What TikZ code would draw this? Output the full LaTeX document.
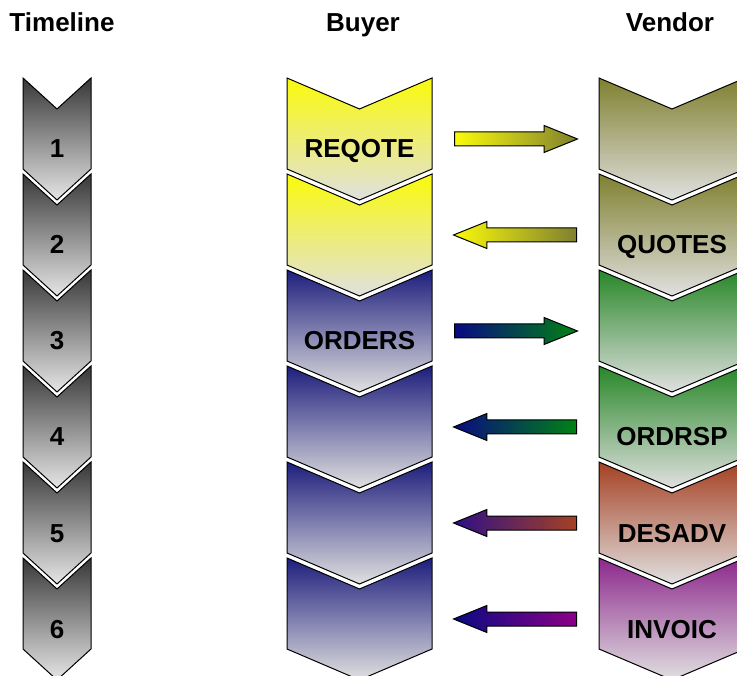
\documentclass[tikz,border=0pt]{standalone}
\usepackage{fontspec}
\setmainfont{Liberation Sans}
\usetikzlibrary{shapes.arrows}
\definecolor{yellowbox}{RGB}{250,250,10}
\definecolor{olivebox}{RGB}{128,128,48}
\definecolor{navybox}{RGB}{30,30,125}
\definecolor{greenbox}{RGB}{40,135,40}
\definecolor{brownbox}{RGB}{165,65,35}
\definecolor{purplebox}{RGB}{140,40,140}
\definecolor{navyarrow}{RGB}{10,10,130}
\definecolor{violetarrow}{RGB}{45,15,135}
\definecolor{greenarrow}{RGB}{0,130,20}
\definecolor{magentaarrow}{RGB}{140,0,135}
\colorlet{fadegray}{black!12}
\begin{document}
\begin{tikzpicture}[x=1pt,y=-1pt,
  chev/.style={draw=black,line width=1pt},
  main node/.style={font=\fontsize{26}{30}\selectfont\bfseries,anchor=base,inner sep=0pt},
  msg/.style={single arrow,draw=black,line width=1pt,minimum height=123pt,minimum width=26pt,
    single arrow head extend=6.5pt,single arrow tip angle=44,inner sep=0pt,inner ysep=6.5pt,anchor=tail}]
  \clip (0,0) rectangle (737,676);
  % column headers
  \node[main node] (timeline) at (62,32) {Timeline};
  \node[main node] (buyer)    at (363,32) {Buyer};
  \node[main node] (vendor)   at (670,32) {Vendor};
  % chevron rows
  \foreach \i/\bc/\bl/\vc/\vl in {1/yellowbox/REQOTE/olivebox/{},2/yellowbox/{}/olivebox/QUOTES,
      3/navybox/ORDERS/greenbox/{},4/navybox/{}/greenbox/ORDRSP,
      5/navybox/{}/brownbox/DESADV,6/navybox/{}/purplebox/INVOIC}{
    \pgfmathsetmacro\y{78+96*(\i-1)}
    \path[chev,top color=black!78,bottom color=black!10]
      (23,\y) -- (57,\y+31) -- (91,\y) -- (91,\y+91) -- (57,\y+122) -- (23,\y+91) -- cycle;
    \path[chev,top color=\bc,middle color=\bc!35!fadegray,bottom color=fadegray]
      (287,\y) -- (359.5,\y+31) -- (432,\y) -- (432,\y+91) -- (359.5,\y+122) -- (287,\y+91) -- cycle;
    \path[chev,top color=\vc,middle color=\vc!35!fadegray,bottom color=fadegray]
      (599,\y) -- (672,\y+31) -- (745,\y) -- (745,\y+91) -- (672,\y+122) -- (599,\y+91) -- cycle;
    \node[main node] (t\i) at (57,\y+80) {\i};
    \node[main node] (b\i) at (359.5,\y+80) {\bl};
    \node[main node] (v\i) at (672,\y+80) {\vl};
  }
  % messages between buyer and vendor
  \foreach \i/\rot/\tx/\lc/\rc in {1/0/454/yellowbox/olivebox,2/180/577/yellowbox/olivebox,
      3/0/454/navyarrow/greenarrow,4/180/577/navyarrow/greenarrow,
      5/180/577/violetarrow/brownbox,6/180/577/navyarrow/magentaarrow}{
    \pgfmathsetmacro\y{139+96*(\i-1)}
    \node[msg,shape border rotate=\rot,left color=\lc,right color=\rc] (a\i) at (\tx,\y) {};
  }
\end{tikzpicture}
\end{document}
